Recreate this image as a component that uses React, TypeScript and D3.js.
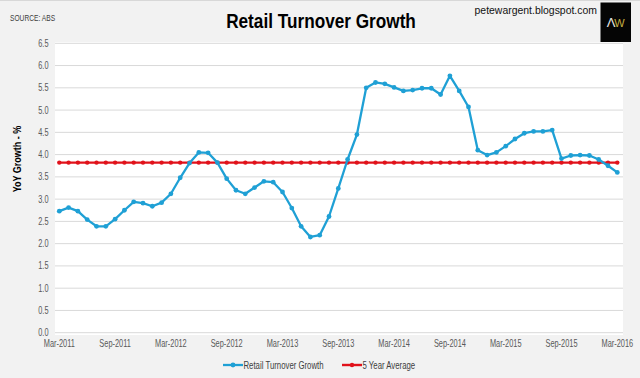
import React from "react";
import * as d3 from "d3";

const months: string[] = (() => {
  const names = ["Jan","Feb","Mar","Apr","May","Jun","Jul","Aug","Sep","Oct","Nov","Dec"];
  const out: string[] = [];
  for (let i = 0; i < 61; i++) {
    const m = (2 + i) % 12;
    const y = 2011 + Math.floor((2 + i) / 12);
    out.push(`${names[m]}-${y}`);
  }
  return out;
})();

const retailGrowth: number[] = [
  2.73, 2.81, 2.73, 2.54, 2.39, 2.39, 2.55, 2.75, 2.94, 2.91,
  2.84, 2.92, 3.12, 3.48, 3.81, 4.05, 4.04, 3.82, 3.46, 3.20,
  3.12, 3.26, 3.40, 3.38, 3.16, 2.80, 2.39, 2.15, 2.19, 2.61,
  3.24, 3.89, 4.45, 5.50, 5.62, 5.59, 5.51, 5.43, 5.45, 5.49,
  5.49, 5.35, 5.77, 5.43, 5.07, 4.10, 3.99, 4.05, 4.19, 4.35,
  4.48, 4.52, 4.52, 4.55, 3.91, 3.98, 3.99, 3.98, 3.89, 3.75,
  3.60,
];

const fiveYearAverage: number[] = months.map(() => 3.82);

const yTicks: number[] = [0, 0.5, 1, 1.5, 2, 2.5, 3, 3.5, 4, 4.5, 5, 5.5, 6, 6.5];
const xTickLabels: string[] = [
  "Mar-2011", "Sep-2011", "Mar-2012", "Sep-2012", "Mar-2013", "Sep-2013",
  "Mar-2014", "Sep-2014", "Mar-2015", "Sep-2015", "Mar-2016",
];

const W = 640;
const H = 378;
const BLUE = "#1fa0d5";
const RED = "#e1121b";
const SANS = "'Liberation Sans', Arial, sans-serif";

type NTProps = {
  x: number;
  y: number;
  sx: number;
  size: number;
  anchor?: "start" | "middle" | "end";
  weight?: string;
  fill?: string;
  children: React.ReactNode;
};

function NText({ x, y, sx, size, anchor = "start", weight = "normal", fill = "#404040", children }: NTProps) {
  return (
    <text
      transform={`translate(${x},${y}) scale(${sx},1)`}
      textAnchor={anchor}
      fontFamily={SANS}
      fontSize={size}
      fontWeight={weight}
      fill={fill}
    >
      {children}
    </text>
  );
}

export default function App() {
  const x = d3.scalePoint<string>().domain(months).range([59.3, 617.3]);
  const y = d3.scaleLinear().domain([0, 6.5]).range([332.7, 43.3]);

  const line = d3
    .line<number>()
    .x((_, i) => x(months[i]) as number)
    .y((d) => y(d));

  return (
    <svg width={W} height={H} style={{ position: "absolute", left: 0, top: 0 }}>
      <rect x={0} y={0} width={W} height={H} fill="#f2f2f2" />
      <rect x={0} y={0} width={W} height={1} fill="#d8d8d8" />
      {/* plot area */}
      <rect x={55} y={42} width={568} height={293} fill="#ffffff" />
      {yTicks.map((t) => (
        <g key={t}>
          <line x1={55} x2={623} y1={y(t)} y2={y(t)} stroke="#d9d9d9" strokeWidth={1} />
          <NText x={48.5} y={y(t) + 3.5} sx={0.74} size={10} anchor="end" fill="#595959">
            {t.toFixed(1)}
          </NText>
        </g>
      ))}
      {xTickLabels.map((lab) => (
        <NText key={lab} x={x(lab) as number} y={347} sx={0.74} size={10} anchor="middle" fill="#595959">
          {lab}
        </NText>
      ))}

      {/* 5 year average */}
      <path d={line(fiveYearAverage) || ""} fill="none" stroke={RED} strokeWidth={2.4} />
      {fiveYearAverage.map((v, i) => (
        <circle key={"r" + i} cx={x(months[i]) as number} cy={y(v)} r={2.2} fill={RED} />
      ))}

      {/* retail growth */}
      <path
        d={line(retailGrowth) || ""}
        fill="none"
        stroke={BLUE}
        strokeWidth={2.3}
        strokeLinejoin="round"
      />
      {retailGrowth.map((v, i) => (
        <circle key={"b" + i} cx={x(months[i]) as number} cy={y(v)} r={2.4} fill={BLUE} />
      ))}

      {/* titles */}
      <NText x={10} y={21} sx={0.74} size={9} fill="#404040">
        SOURCE: ABS
      </NText>
      <NText x={321} y={27.5} sx={0.86} size={20} anchor="middle" weight="bold" fill="#000">
        Retail Turnover Growth
      </NText>
      <NText x={597} y={13.5} sx={0.95} size={11} anchor="end" fill="#111">
        petewargent.blogspot.com
      </NText>
      <rect x={600.5} y={2.5} width={30.5} height={39.5} fill="#050505" />
      <text x={611} y={27} textAnchor="middle" fontFamily={SANS} fontSize={13} fill="#e8e8e8">
        Λ
      </text>
      <text x={619.5} y={27} textAnchor="middle" fontFamily={SANS} fontSize={11} fill="#c8b040">
        W
      </text>

      <text
        transform={`translate(21,159) rotate(-90) scale(0.82,1)`}
        textAnchor="middle"
        fontFamily={SANS}
        fontSize={11}
        fontWeight="bold"
        fill="#000"
      >
        YoY Growth - %
      </text>

      {/* legend */}
      <g>
        <line x1={223} x2={243} y1={365} y2={365} stroke={BLUE} strokeWidth={2.3} />
        <circle cx={233} cy={365} r={2.4} fill={BLUE} />
        <NText x={243.5} y={369} sx={0.78} size={10} fill="#404040">
          Retail Turnover Growth
        </NText>
        <line x1={342} x2={362} y1={365} y2={365} stroke={RED} strokeWidth={2.4} />
        <circle cx={352} cy={365} r={2.2} fill={RED} />
        <NText x={362.5} y={369} sx={0.78} size={10} fill="#404040">
          5 Year Average
        </NText>
      </g>
    </svg>
  );
}
